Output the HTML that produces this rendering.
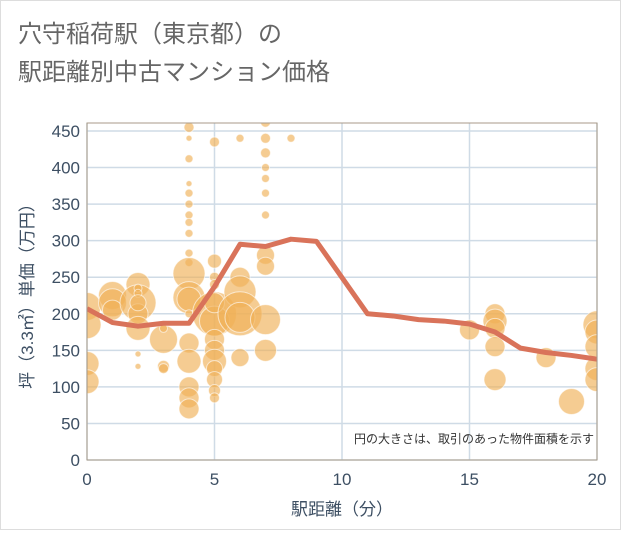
<!DOCTYPE html>
<html><head><meta charset="utf-8"><style>
body{margin:0;background:#fff;}
svg text{font-family:"Liberation Sans","Noto Sans CJK JP",sans-serif;}
</style></head><body>
<svg width="621" height="530" xmlns="http://www.w3.org/2000/svg">
<defs><clipPath id="pc"><rect x="87" y="123" width="510" height="337"/></clipPath></defs>
<rect x="0.5" y="0.5" width="620" height="529" fill="#fff" stroke="#ddd"/>
<text x="18" y="42" font-size="24" fill="#666">穴守稲荷駅（東京都）の</text>
<text x="18" y="80" font-size="24" fill="#666">駅距離別中古マンション価格</text>
<g id="grid"></g>
<g clip-path="url(#pc)">
<g id="bubbles"></g>
<g id="line"></g>
</g>
<rect x="87" y="123" width="510" height="337" fill="none" stroke="#a89a88"/>
<g id="axes"></g>
<text x="594" y="443" font-size="12" fill="#333" text-anchor="end">円の大きさは、取引のあった物件面積を示す</text>
<text x="342" y="515" font-size="17" fill="#3d4f63" text-anchor="middle">駅距離（分）</text>
<text transform="translate(33,292) rotate(-90)" font-size="17" fill="#3d4f63" text-anchor="middle">坪（3.3㎡）単価（万円）</text>
</svg>
<script>
const xTicks=[0,5,10,15,20];
const yTicks=[0,50,100,150,200,250,300,350,400,450];
const lineX=[0,1,2,3,4,5,6,7,8,9,11,12,13,14,15,16,17,18,19,20];
const lineY=[207,188,183,187,187,237,295,292,302,299,200,197,192,190,186,175,153,147,143,138];
const bubX=[0,0,0,0,1,1,1,2,2,2,2,2,2,2,2,2,3,3,3,3,4,4,4,4,4,4,4,4,4,4,4,4,4,4,4,4,4,4,4,4,5,5,5,5,5,5,5,5,5,5,5,5,5,5,6,6,6,6,6,6,7,7,7,7,7,7,7,7,7,7,7,8,15,16,16,16,16,16,18,19,20,20,20,20,20];
const bubY=[210,185,132,107,225,215,205,240,215,200,180,235,228,145,128,215,165,128,180,125,455,440,412,378,365,350,335,325,310,283,270,255,222,220,200,160,135,100,85,70,435,272,250,240,200,190,165,150,135,125,110,95,85,215,440,250,230,200,195,140,462,440,420,400,385,365,335,280,265,192,150,440,178,200,190,180,155,110,140,80,185,175,155,125,110];
const bubR=[14,14,12,12,14,14,10,12,18,10,12,4,4,3,3,8,14,6,4,5,5,3,4,3,4,4,4,4,4,4,4,16,16,12,4,10,12,10,10,10,5,7,5,5,22,15,10,10,12,8,8,6,5,10,4,10,16,22,15,9,5,5,5,4,4,4,4,9,9,15,11,4,10,10,12,10,10,11,10,13,14,12,12,12,12];
const NS="http://www.w3.org/2000/svg";
const X=d=>87+d*25.5, Y=v=>460-v*(337/460.9);
function mk(t,a,p){const e=document.createElementNS(NS,t);for(const k in a)e.setAttribute(k,a[k]);p.appendChild(e);return e;}
const g=document.getElementById('grid'),ax=document.getElementById('axes');
mk('rect',{x:87,y:123,width:510,height:337,fill:'#fff'},g);
yTicks.forEach(v=>{const l=mk('line',{x1:87,x2:597,y1:Y(v),y2:Y(v),stroke:'#cfdbe6','stroke-width':1.5},g);

const t=mk('text',{x:80,y:Y(v)+6,'font-size':17,fill:'#3d4f63','text-anchor':'end'},ax);t.textContent=v;
});
xTicks.forEach(v=>{const l=mk('line',{x1:X(v),x2:X(v),y1:123,y2:460,stroke:'#cfdbe6','stroke-width':1.5},g);

const t=mk('text',{x:X(v),y:485,'font-size':17,fill:'#3d4f63','text-anchor':'middle'},ax);t.textContent=v;
});
const b=document.getElementById('bubbles');
bubX.forEach((d,i)=>{const c=mk('circle',{cx:X(d),cy:Y(bubY[i]),r:bubR[i],fill:'#f0b158','fill-opacity':0.65,stroke:'#fff','stroke-opacity':0.6,'stroke-width':1},b);
});
const p=mk('polyline',{points:lineX.map((d,i)=>X(d)+','+Y(lineY[i])).join(' '),fill:'none',stroke:'#d9735a','stroke-width':5,'stroke-linejoin':'round'},document.getElementById('line'));

</script>
</body></html>
